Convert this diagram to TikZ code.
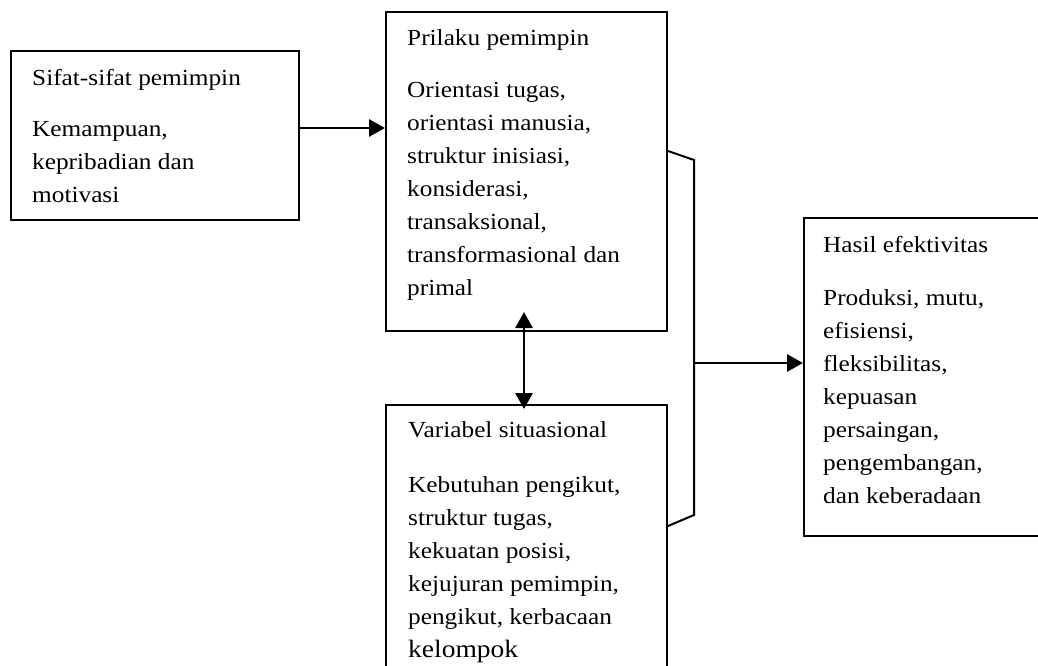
\documentclass[tikz,border=0pt]{standalone}
\usepackage{fontspec}
\setmainfont{Liberation Serif}[FakeStretch=1.1]
\usetikzlibrary{arrows.meta}
\begin{document}
\begin{tikzpicture}[x=1pt,y=-1pt,
  box/.style={draw,line width=2pt,inner sep=0pt,anchor=north west},
  txt/.style={inner sep=0pt,anchor=base west,font=\fontsize{23}{33}\selectfont},
  arr/.style={line width=2.7pt,-{Triangle[length=16pt,width=17pt]}},
  darr/.style={line width=2.7pt,{Triangle[length=16pt,width=17pt]}-{Triangle[length=16pt,width=17pt]}},
  link/.style={line width=2pt}]
\useasboundingbox (0,0) rectangle (1038,665);
\clip (0,0) rectangle (1038,665);
\node[box,minimum width=288pt,minimum height=169pt] (b1) at (10,50) {};
\node[box,minimum width=281pt,minimum height=319pt] (b2) at (385,11) {};
\node[box,minimum width=281pt,minimum height=320pt] (b3) at (385,404) {};
\node[box,minimum width=260pt,minimum height=318pt] (b4) at (803,217) {};
\node[txt] (t1) at (32,85) {\parbox[t]{300pt}{\raggedright Sifat-sifat pemimpin\\[18pt] Kemampuan,\\ kepribadian dan\\ motivasi}};
\node[txt] (t2) at (407,45) {\parbox[t]{300pt}{\raggedright Prilaku pemimpin\\[19pt] Orientasi tugas,\\ orientasi manusia,\\ struktur inisiasi,\\ konsiderasi,\\ transaksional,\\ transformasional dan\\ primal}};
\node[txt] (t3) at (408,437) {\parbox[t]{300pt}{\raggedright Variabel situasional\\[22pt] Kebutuhan pengikut,\\ struktur tugas,\\ kekuatan posisi,\\ kejujuran pemimpin,\\ pengikut, kerbacaan\\ {\fontsize{25}{33}\selectfont kelompok}}};
\node[txt] (t4) at (823,252) {\parbox[t]{300pt}{\raggedright Hasil efektivitas\\[20pt] Produksi, mutu,\\ efisiensi,\\ fleksibilitas,\\ kepuasan\\ persaingan,\\ pengembangan,\\ dan keberadaan}};
\coordinate (j1) at (694,160);
\coordinate (j2) at (694,515);
\coordinate (jm) at (694,363);
\draw[arr] ([yshift=7.5pt]b1.east) -- ([yshift=7.5pt]b1.east -| b2.west);
\draw[darr] ([xshift=-2.5pt,yshift=20pt]b2.south) -- ([xshift=-2.5pt,yshift=-5pt]b3.north);
\draw[link] ([yshift=20.5pt]b2.east) -- (j1) -- (j2) -- ([yshift=39pt]b3.east);
\draw[arr] (jm) -- (jm -| b4.west);
\end{tikzpicture}
\end{document}
